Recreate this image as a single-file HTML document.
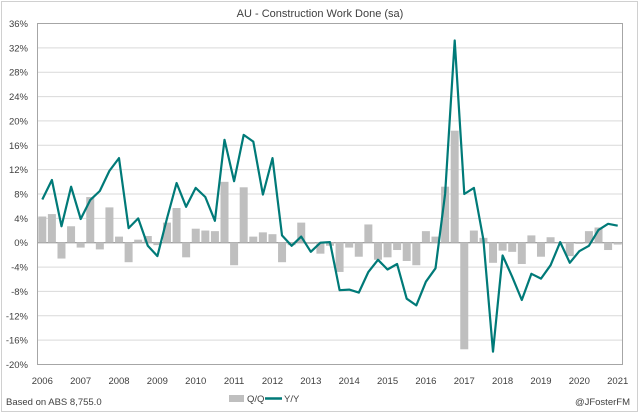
<!DOCTYPE html>
<html><head><meta charset="utf-8"><style>
body{margin:0;background:#fff;font-family:"Liberation Sans",sans-serif;}
svg text{font-family:"Liberation Sans",sans-serif;fill:#404040;}
</style></head><body>
<svg id="chart" width="640" height="414" xmlns="http://www.w3.org/2000/svg">
<rect x="1.5" y="1.5" width="636" height="410" fill="#fff" stroke="#d0d0d0"/>
<text x="320" y="17" font-size="11" text-anchor="middle">AU - Construction Work Done (sa)</text>
<g id="grid"></g><g id="bars"></g><g id="line"></g><g id="axes"></g>
<g>
<rect x="229" y="395" width="15" height="7" fill="#bfbfbf"/>
<text x="247" y="402" font-size="9.5">Q/Q</text>
<line x1="265" y1="398.5" x2="282" y2="398.5" stroke="#007a78" stroke-width="2.5"/>
<text x="284" y="402" font-size="9.5">Y/Y</text>
</g>
<text x="6" y="405" font-size="9.5">Based on ABS 8,755.0</text>
<text x="630" y="405" font-size="9.5" text-anchor="end">@JFosterFM</text>
</svg>
<script>
const years=[2006,2007,2008,2009,2010,2011,2012,2013,2014,2015,2016,2017,2018,2019,2020,2021];
const yTicks=[36,32,28,24,20,16,12,8,4,0,-4,-8,-12,-16,-20];
const qoq=[4.3,4.7,-2.6,2.7,-0.8,7.5,-1.1,5.8,1.0,-3.2,0.5,1.1,-0.4,3.3,5.7,-2.4,2.3,2.0,1.9,10.0,-3.7,9.1,1.0,1.7,1.4,-3.2,-0.4,3.3,-0.2,-1.8,-0.5,-4.8,-0.8,-2.3,3.0,-2.8,-2.4,-1.2,-3.0,-3.7,1.9,1.0,9.2,18.4,-17.5,2.0,0.8,-3.3,-1.3,-1.5,-3.5,1.2,-2.3,0.9,0.1,-2.2,-0.2,1.9,2.5,-1.2,-0.3];
const yoy=[7.1,10.3,2.7,9.2,3.9,7.0,8.5,11.8,13.9,2.4,4.0,-0.5,-2.2,4.0,9.8,5.9,9.0,7.5,3.6,16.9,10.1,17.7,16.6,7.9,13.9,1.2,-0.5,1.0,-1.5,0.0,0.1,-7.8,-7.7,-8.2,-4.8,-2.8,-4.4,-3.5,-9.2,-10.3,-6.4,-4.2,8.0,33.2,8.0,9.0,0.5,-17.9,-2.1,-5.6,-9.4,-5.1,-5.9,-3.7,0.1,-3.3,-1.4,-0.5,2.1,3.1,2.8];
const NS="http://www.w3.org/2000/svg";
const L=37.5,R=622.5,T=23.5,B=364.5,yMin=-20,yMax=36;
const n=qoq.length,step=(R-L)/n;
const xs=i=>L+step*(i+0.5);
const ys=v=>B-(v-yMin)/(yMax-yMin)*(B-T);
function mk(tag,attrs,parent){const e=document.createElementNS(NS,tag);for(const k in attrs)e.setAttribute(k,attrs[k]);document.getElementById(parent).appendChild(e);return e;}
yTicks.forEach(t=>{
 const g=mk('line',{x1:L,x2:R,y1:ys(t),y2:ys(t),stroke:t===0?'#808080':'#d9d9d9','stroke-width':1},'grid');
 
 
 const tx=mk('text',{x:28,y:ys(t)+3.5,'font-size':9.5,'text-anchor':'end'},'axes');
 tx.textContent=t+'%';
 
 
});
const fr=mk('rect',{x:L,y:T,width:R-L,height:B-T,fill:'none',stroke:'#a6a6a6'},'grid');


qoq.forEach((v,i)=>{
 const y0=ys(0),y1=ys(v);
 const b=mk('rect',{x:xs(i)-4,width:8,y:Math.min(y0,y1),height:Math.abs(y1-y0),fill:'#bfbfbf'},'bars');
 
 
});
const pts=yoy.map((v,i)=>xs(i).toFixed(1)+','+ys(v).toFixed(1)).join(' ');
const pl=mk('polyline',{points:pts,fill:'none',stroke:'#007a78','stroke-width':2.2,'stroke-linejoin':'round'},'line');


years.forEach((yr,k)=>{
 const tx=mk('text',{x:xs(k*4),y:384,'font-size':9.5,'text-anchor':'middle'},'axes');
 tx.textContent=yr;
 
 
});
</script>
</body></html>
